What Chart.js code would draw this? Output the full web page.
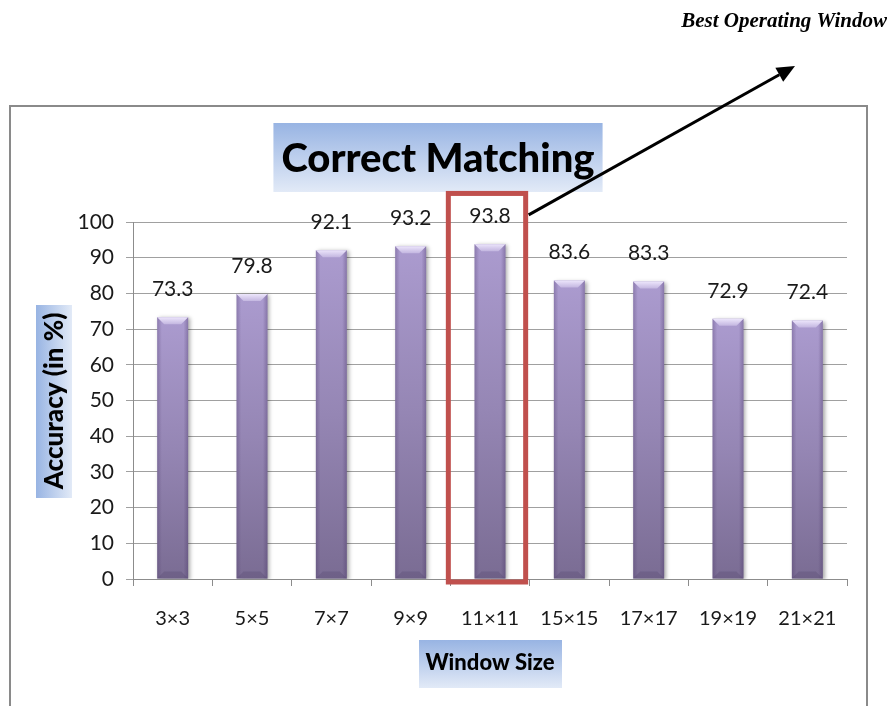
<!DOCTYPE html>
<html>
<head>
<meta charset="utf-8">
<script src="https://cdn.jsdelivr.net/npm/chart.js@4/dist/chart.umd.min.js"></script>
<style>
  html, body { margin: 0; padding: 0; background: #ffffff; }
  #wrap { position: relative; width: 887px; height: 706px; }
</style>
</head>
<body>
<div id="wrap"><canvas id="chart" width="887" height="706"></canvas></div>
<script>
// ---- data ----
const windowSizes = ['3×3', '5×5', '7×7', '9×9', '11×11', '15×15', '17×17', '19×19', '21×21'];
const accuracy = [73.3, 79.8, 92.1, 93.2, 93.8, 83.6, 83.3, 72.9, 72.4];
const yRange = { min: 0, max: 100, step: 10 };
const chartTitle = 'Correct Matching';
const xAxisTitle = 'Window Size';
const yAxisTitle = 'Accuracy (in %)';
const calloutText = 'Best Operating Window';
const bestIndex = 4;

const FONT = 'Lato, "Open Sans", sans-serif';

function boxGradient(ctx, x0, y0, x1, y1) {
  const g = ctx.createLinearGradient(x0, y0, x1, y1);
  g.addColorStop(0, '#98b4e3');
  g.addColorStop(1, '#e2eaf7');
  return g;
}

// frame, title and axis-title boxes drawn behind the chart
const backdrop = {
  id: 'backdrop',
  beforeDraw(chart) {
    const ctx = chart.ctx;
    const area = chart.chartArea;
    ctx.save();
    // outer frame
    ctx.strokeStyle = '#8a8a8a';
    ctx.lineWidth = 2;
    ctx.beginPath();
    ctx.moveTo(10, 720);
    ctx.lineTo(10, 106);
    ctx.lineTo(867, 106);
    ctx.lineTo(867, 720);
    ctx.stroke();

    // chart title
    const tx = (area.left + area.right) / 2 - 52;
    ctx.font = '900 40px ' + FONT;
    const tw = ctx.measureText(chartTitle).width;
    const bx0 = tx - tw / 2 - 8, bx1 = tx + tw / 2 + 8;
    ctx.fillStyle = boxGradient(ctx, 0, 123, 0, 192);
    ctx.fillRect(bx0, 123, bx1 - bx0, 69);
    ctx.fillStyle = '#000000';
    ctx.textAlign = 'center';
    ctx.textBaseline = 'middle';
    ctx.fillText(chartTitle, tx, 159);

    // y-axis title (rotated)
    ctx.font = '900 26px ' + FONT;
    ctx.fillStyle = boxGradient(ctx, 36, 0, 72, 0);
    ctx.fillRect(36, 305, 36, 193);
    ctx.save();
    ctx.translate(55, 401);
    ctx.rotate(-Math.PI / 2);
    ctx.fillStyle = '#000000';
    ctx.fillText(yAxisTitle, 0, 0);
    ctx.restore();

    // x-axis title
    ctx.font = '900 22px ' + FONT;
    ctx.fillStyle = boxGradient(ctx, 0, 640, 0, 688);
    ctx.fillRect(419, 640, 143, 48);
    ctx.fillStyle = '#000000';
    ctx.fillText(xAxisTitle, 490, 663);

    // callout text
    ctx.font = 'bold italic 21px "Liberation Serif", "DejaVu Serif", serif';
    ctx.textAlign = 'right';
    ctx.textBaseline = 'alphabetic';
    ctx.fillText(calloutText, 887, 27);
    ctx.restore();
  }
};

// shadow under the bars
const barShadow = {
  id: 'barShadow',
  beforeDatasetDraw(chart) {
    const ctx = chart.ctx;
    ctx.save();
    ctx.shadowColor = 'rgba(0,0,0,0.35)';
    ctx.shadowBlur = 4;
    ctx.shadowOffsetX = 2;
    ctx.shadowOffsetY = 1;
  },
  afterDatasetDraw(chart) {
    chart.ctx.restore();
  }
};

// bevel highlights, value labels, highlight box and arrow
const decorations = {
  id: 'decorations',
  afterDatasetsDraw(chart) {
    const ctx = chart.ctx;
    const meta = chart.getDatasetMeta(0);
    const xs = chart.scales.x, ys = chart.scales.y;
    ctx.save();
    meta.data.forEach((bar, i) => {
      const { x, y, base, width } = bar.getProps(['x', 'y', 'base', 'width'], true);
      const l = x - width / 2, r = x + width / 2;
      // side shading
      let g = ctx.createLinearGradient(l, 0, r, 0);
      g.addColorStop(0, 'rgba(70,50,100,0.30)');
      g.addColorStop(0.15, 'rgba(70,50,100,0.0)');
      g.addColorStop(0.85, 'rgba(70,50,100,0.0)');
      g.addColorStop(1, 'rgba(70,50,100,0.35)');
      ctx.fillStyle = g;
      ctx.fillRect(l, y, width, base - y);
      // top bevel
      const bev = 7;
      g = ctx.createLinearGradient(0, y, 0, y + bev);
      g.addColorStop(0, '#ece5fb');
      g.addColorStop(1, '#c3b6e0');
      ctx.fillStyle = g;
      ctx.beginPath();
      ctx.moveTo(l, y);
      ctx.lineTo(r, y);
      ctx.lineTo(r - bev, y + bev);
      ctx.lineTo(l + bev, y + bev);
      ctx.closePath();
      ctx.fill();
      // bottom bevel
      ctx.fillStyle = 'rgba(90,75,115,0.35)';
      ctx.beginPath();
      ctx.moveTo(l, base);
      ctx.lineTo(r, base);
      ctx.lineTo(r - bev, base - bev);
      ctx.lineTo(l + bev, base - bev);
      ctx.closePath();
      ctx.fill();
      // value label
      ctx.fillStyle = '#1a1a1a';
      ctx.font = '21px ' + FONT;
      ctx.textAlign = 'center';
      ctx.textBaseline = 'middle';
      ctx.fillText(accuracy[i].toFixed(1), x, y - 28);
    });

    // highlight box around the best window
    const cw = xs.width / windowSizes.length;
    const cx = xs.getPixelForValue(bestIndex) - 3;
    const top = ys.getPixelForValue(108);
    const bottom = ys.getPixelForValue(0) + 3;
    ctx.strokeStyle = '#c0504d';
    ctx.lineWidth = 5;
    ctx.strokeRect(cx - cw / 2 + 1, top, cw - 2, bottom - top);

    // arrow towards the callout
    const sx = cx + cw / 2 + 2, sy = ys.getPixelForValue(102);
    const ex = 795, ey = 66;
    const ang = Math.atan2(ey - sy, ex - sx);
    const hl = 18, hw = 8;
    ctx.strokeStyle = '#000000';
    ctx.fillStyle = '#000000';
    ctx.lineWidth = 3;
    ctx.beginPath();
    ctx.moveTo(sx, sy);
    ctx.lineTo(ex - hl * Math.cos(ang), ey - hl * Math.sin(ang));
    ctx.stroke();
    ctx.beginPath();
    ctx.moveTo(ex, ey);
    ctx.lineTo(ex - hl * Math.cos(ang) + hw * Math.sin(ang), ey - hl * Math.sin(ang) - hw * Math.cos(ang));
    ctx.lineTo(ex - hl * Math.cos(ang) - hw * Math.sin(ang), ey - hl * Math.sin(ang) + hw * Math.cos(ang));
    ctx.closePath();
    ctx.fill();
    ctx.restore();
  }
};

function barFill(context) {
  const chart = context.chart;
  const area = chart.chartArea;
  if (!area) return '#9c8dbd';
  const ys = chart.scales.y;
  const top = ys.getPixelForValue(context.raw);
  const bottom = ys.getPixelForValue(0);
  const g = chart.ctx.createLinearGradient(0, top, 0, bottom);
  g.addColorStop(0, '#ab9bcf');
  g.addColorStop(0.5, '#9586b4');
  g.addColorStop(1, '#7a6c93');
  return g;
}

new Chart(document.getElementById('chart'), {
  type: 'bar',
  data: {
    labels: windowSizes,
    datasets: [{
      data: accuracy,
      backgroundColor: barFill,
      borderWidth: 0,
      barPercentage: 0.39,
      categoryPercentage: 1.0
    }]
  },
  options: {
    responsive: false,
    devicePixelRatio: 1,
    animation: false,
    layout: { padding: { top: 222, right: 40, bottom: 67, left: 0 } },
    plugins: {
      legend: { display: false },
      tooltip: { enabled: false },
      title: { display: false }
    },
    scales: {
      x: {
        grid: {
          drawOnChartArea: false,
          drawTicks: true,
          tickLength: 7,
          color: '#8c8c8c'
        },
        border: { color: '#8c8c8c', width: 1 },
        ticks: {
          color: '#1a1a1a',
          font: { family: FONT, size: 20 },
          padding: 21,
          maxRotation: 0
        },
        afterFit(scale) { scale.height = 60; }
      },
      y: {
        min: yRange.min,
        max: yRange.max,
        grid: {
          color: '#a0a0a0',
          tickLength: 7
        },
        border: { color: '#8c8c8c', width: 1 },
        ticks: {
          stepSize: yRange.step,
          color: '#1a1a1a',
          font: { family: FONT, size: 21 },
          padding: 12
        },
        afterFit(scale) { scale.width = 133; }
      }
    }
  },
  plugins: [backdrop, barShadow, decorations]
});
</script>
</body>
</html>
